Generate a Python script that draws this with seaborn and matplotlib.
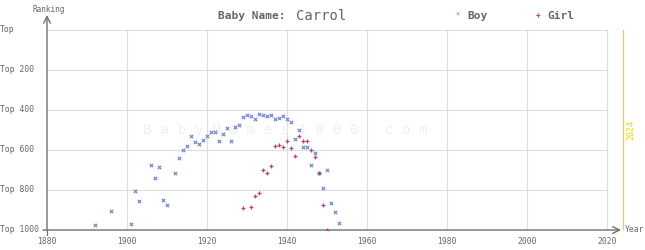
import matplotlib
matplotlib.use("Agg")
import matplotlib.pyplot as plt
import seaborn as sns
import pandas as pd

# ---- data ----
boy_years = [1892, 1896, 1901, 1902, 1903, 1906, 1907, 1908, 1909, 1910, 1912, 1913,
             1914, 1915, 1916, 1917, 1918, 1919, 1920, 1921, 1922, 1923, 1924, 1925,
             1926, 1927, 1928, 1929, 1930, 1931, 1932, 1933, 1934, 1935, 1936, 1937,
             1938, 1939, 1940, 1941, 1942, 1943, 1944, 1945, 1946, 1947, 1948, 1949,
             1950, 1951, 1952, 1953]
boy_ranks = [976, 907, 972, 807, 857, 677, 742, 687, 852, 877, 717, 642,
             602, 582, 532, 562, 572, 552, 532, 512, 512, 557, 522, 492,
             557, 487, 477, 437, 427, 432, 447, 422, 427, 432, 427, 447,
             442, 432, 447, 462, 547, 502, 587, 587, 677, 617, 717, 792,
             702, 867, 912, 967]
girl_years = [1929, 1931, 1932, 1933, 1934, 1935, 1936, 1937, 1938, 1939, 1940,
              1941, 1942, 1943, 1944, 1945, 1946, 1947, 1948, 1949, 1950]
girl_ranks = [892, 887, 832, 817, 702, 717, 682, 582, 577, 587, 557,
              592, 632, 532, 557, 557, 602, 637, 717, 877, 1000]
x_ticks = [1880, 1900, 1920, 1940, 1960, 1980, 2000, 2020]
y_ticks = [0, 200, 400, 600, 800, 1000]
y_labels = ["Top", "Top 200", "Top 400", "Top 600", "Top 800", "Top 1000"]
name = "Carrol"
current_year = 2024

BOY_C = "#6f80c4"
GIRL_C = "#c0406e"
GRID_C = "#dddddd"
AXIS_C = "#707070"
TEXT_C = "#666666"
MONO = "DejaVu Sans Mono"

sns.set_theme(style="white")
plt.rcParams["font.family"] = [MONO, "DejaVu Sans"]

W, H = 645, 250
fig = plt.figure(figsize=(W / 100, H / 100), dpi=100)
L, R, T, B = 47, 640, 8, 230
ax = fig.add_axes([L / W, (H - B) / H, (R - L) / W, (B - T) / H])
x0 = 1880
x1 = x0 + (R - L) / 4.0
ax.set_xlim(x0, x1)
ax.set_ylim(1000, (T - 30) * 5)
for s in ax.spines.values():
    s.set_visible(False)
ax.set_xticks([])
ax.set_yticks([])
ax.patch.set_alpha(0)

# grid
for xt in x_ticks[1:]:
    ax.plot([xt, xt], [0, 1000], color=GRID_C, lw=0.8, zorder=0)
for yt in y_ticks[:-1]:
    ax.plot([x0, 2020], [yt, yt], color=GRID_C, lw=0.8, zorder=0)

# watermark
ax.text(1939.5, 500, " ".join("BabyNames1000.com"), fontsize=10.4, family=MONO,
        color="#f0f0f0", ha="center", va="center", zorder=0.5)

# current year line
ax.plot([current_year, current_year], [0, 1000], color="#f2d21a", lw=0.9, zorder=1)
ax.text(current_year + 2, 500, str(current_year), rotation=90, fontsize=6, color="#f2d21a",
        ha="center", va="center", family=MONO)

# axes lines with arrows
ax.annotate("", xy=(x0, -75), xytext=(x0, 1000),
            arrowprops=dict(arrowstyle="->", color=AXIS_C, lw=1.0, shrinkA=0, shrinkB=0))
ax.annotate("", xy=(2023.5, 1000), xytext=(x0 - 1, 1000),
            arrowprops=dict(arrowstyle="->", color=AXIS_C, lw=1.0, shrinkA=0, shrinkB=0))
ax.plot([x0 - 1.5, x0], [1000, 1000], color=AXIS_C, lw=0.9)
ax.plot([x0, x0], [1000, 1025], color=AXIS_C, lw=0.9, clip_on=False)

# data
boy_df = pd.DataFrame({"year": boy_years, "rank": boy_ranks})
girl_df = pd.DataFrame({"year": girl_years, "rank": girl_ranks})
sns.scatterplot(data=boy_df, x="year", y="rank", marker="x", s=6, color=BOY_C,
                linewidth=0.8, ax=ax, zorder=3)
sns.scatterplot(data=girl_df, x="year", y="rank", marker="+", s=9, color=GIRL_C,
                linewidth=0.9, ax=ax, zorder=3)
ax.set_xlabel("")
ax.set_ylabel("")

# tick labels
for yt, lab in zip(y_ticks, y_labels):
    fig.text(0 / W, 1 - (30 + yt * 0.2) / H, lab, fontsize=5.8, color=TEXT_C,
             ha="left", va="center", family=MONO)
for xt in x_ticks:
    fig.text((L + (xt - x0) * 4) / W, 1 - 242 / H, str(xt), fontsize=5.8, color=TEXT_C,
             ha="center", va="center", family=MONO)

fig.text(49 / W, 1 - 9 / H, "Ranking", fontsize=5.5, color=TEXT_C, ha="center",
         va="center", family=MONO)
fig.text(625 / W, 1 - 230 / H, "Year", fontsize=5.8, color=TEXT_C, ha="left",
         va="center", family=MONO)

# title
fig.text(285 / W, 1 - 16 / H, "Baby Name:", fontsize=8, fontweight="bold", color=TEXT_C,
         ha="right", va="center", family=MONO)
fig.text(296 / W, 1 - 16 / H, name, fontsize=10, color=TEXT_C, ha="left", va="center",
         family=MONO)

# legend
fig.text(458 / W, 1 - 15 / H, "×", fontsize=5, color=BOY_C, ha="center", va="center")
fig.text(467 / W, 1 - 16 / H, "Boy", fontsize=8, fontweight="bold", color=TEXT_C,
         ha="left", va="center", family=MONO)
fig.text(538 / W, 1 - 15 / H, "+", fontsize=5.5, fontweight="bold", color=GIRL_C,
         ha="center", va="center")
fig.text(547 / W, 1 - 16 / H, "Girl", fontsize=8, fontweight="bold", color=TEXT_C,
         ha="left", va="center", family=MONO)

fig.savefig("out.png", dpi=100, facecolor="white")
